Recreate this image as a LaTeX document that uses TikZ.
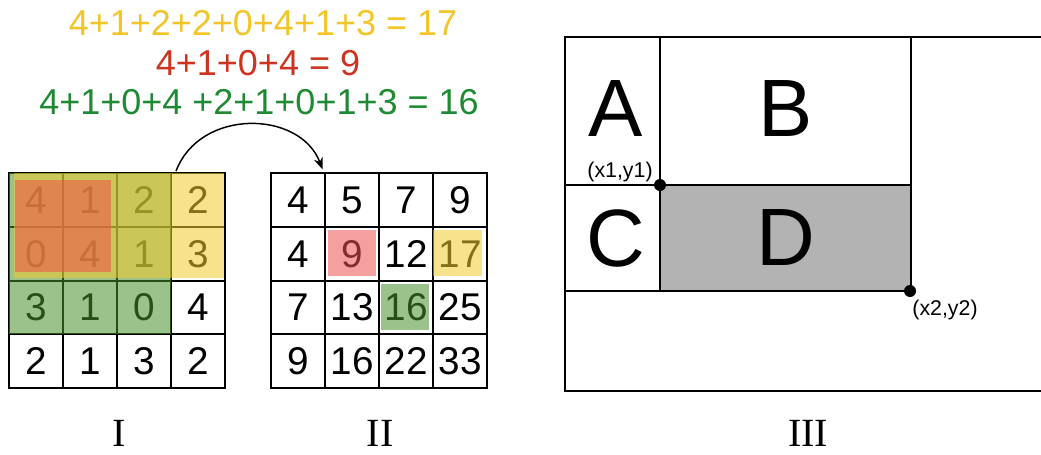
\documentclass[tikz,border=0pt]{standalone}
\usepackage{fontspec}
\setmainfont{Liberation Sans}
\newfontfamily\romanfont{Liberation Serif}
\usetikzlibrary{arrows.meta}
\definecolor{eqyellow}{RGB}{243,197,40}
\definecolor{eqred}{RGB}{204,52,32}
\definecolor{eqgreen}{RGB}{30,138,52}
\definecolor{ovyellow}{RGB}{240,204,45}
\definecolor{ovgreen}{RGB}{75,144,45}
\definecolor{ovred}{RGB}{242,80,73}
\definecolor{ovpink}{RGB}{235,82,82}
\definecolor{dgray}{RGB}{179,179,179}
\begin{document}
\begin{tikzpicture}[x=0.75pt,y=-0.75pt,
  cell/.style={draw=black, line width=1.4pt, minimum width=40.5pt, minimum height=40.35pt, inner sep=0pt, font=\fontsize{29}{29}\selectfont},
  ov/.style={fill opacity=0.55},
  eq/.style={font=\fontsize{27}{27}\selectfont, inner sep=0pt},
  big/.style={font=\fontsize{61}{61}\selectfont, inner sep=0pt},
  coordlbl/.style={font=\fontsize{16}{16}\selectfont, inner sep=0pt},
  roman/.style={font=\romanfont\fontsize{30}{30}\selectfont, inner sep=0pt},
  cornerdot/.style={circle, fill=black, inner sep=0pt, minimum size=9pt},
  region/.style={draw=black, line width=1.5pt},
  link/.style={line width=1.1pt, -{Stealth[length=9pt,width=7pt]}}]
\useasboundingbox (0,0) rectangle (1041,454);

% equations
\node[eq, text=eqyellow] (eq1) at (263,23) {4+1+2+2+0+4+1+3 = 17};
\node[eq, text=eqred] (eq2) at (258,63) {4+1+0+4 = 9};
\node[eq, text=eqgreen] (eq3) at (259,102) {4+1+0+4 +2+1+0+1+3 = 16};

% grid I
\foreach \v [count=\i from 0] in {4,1,2,2,0,4,1,3,3,1,0,4,2,1,3,2} {
  \pgfmathtruncatemacro\ri{int(\i/4)}
  \pgfmathtruncatemacro\ci{mod(\i,4)}
  \node[cell] (ga-\ri-\ci) at ({36+54*\ci},{199.9+53.8*\ri}) {\v};
}
\fill[ovgreen, ov] (9,173) rectangle (171,334);
\fill[ovyellow, ov] (14,173) rectangle (224,278);
\fill[ovred, ov] (15,180) rectangle (111,272);

% grid II
\foreach \v [count=\i from 0] in {4,5,7,9,4,9,12,17,7,13,16,25,9,16,22,33} {
  \pgfmathtruncatemacro\ri{int(\i/4)}
  \pgfmathtruncatemacro\ci{mod(\i,4)}
  \node[cell] (gb-\ri-\ci) at ({298+54*\ci},{199.9+53.8*\ri}) {\v};
}
\fill[ovpink, ov] (328,230) rectangle (376,276);
\fill[ovyellow, ov] (433,230) rectangle (482,276);
\fill[ovgreen, ov] (381,284) rectangle (429,330);

% arrow
\coordinate (arrS) at ([xshift=4.5pt,yshift=0.8pt]ga-0-3.north west);
\coordinate (arrE) at ([xshift=-2.5pt,yshift=2pt]gb-0-0.north east);
\draw[link] (arrS) .. controls (200,108) and (300,110) .. (arrE);

% panel III
\fill[dgray] (660,185) rectangle (911,291);
\draw[region] (1041,37) -- (565,37) -- (565,391) -- (1041,391);
\draw[region] (660,37) -- (660,291);
\draw[region] (911,37) -- (911,291);
\draw[region] (565,185) -- (911,185);
\draw[region] (565,291) -- (911,291);
\node[big] (A) at (616,109) {A};
\node[big] (B) at (786,109) {B};
\node[big] (C) at (616,238) {C};
\node[big] (D) at (786,238) {D};
\node[cornerdot] (p1) at (660,185) {};
\node[cornerdot] (p2) at (910,291) {};
\node[coordlbl] (l1) at (620,172) {(x1,y1)};
\node[coordlbl] (l2) at (945,310) {(x2,y2)};

% captions
\node[roman] (capI) at (119,433) {I};
\node[roman] (capII) at (380,433) {II};
\node[roman] (capIII) at (808,433) {III};
\end{tikzpicture}
\end{document}
